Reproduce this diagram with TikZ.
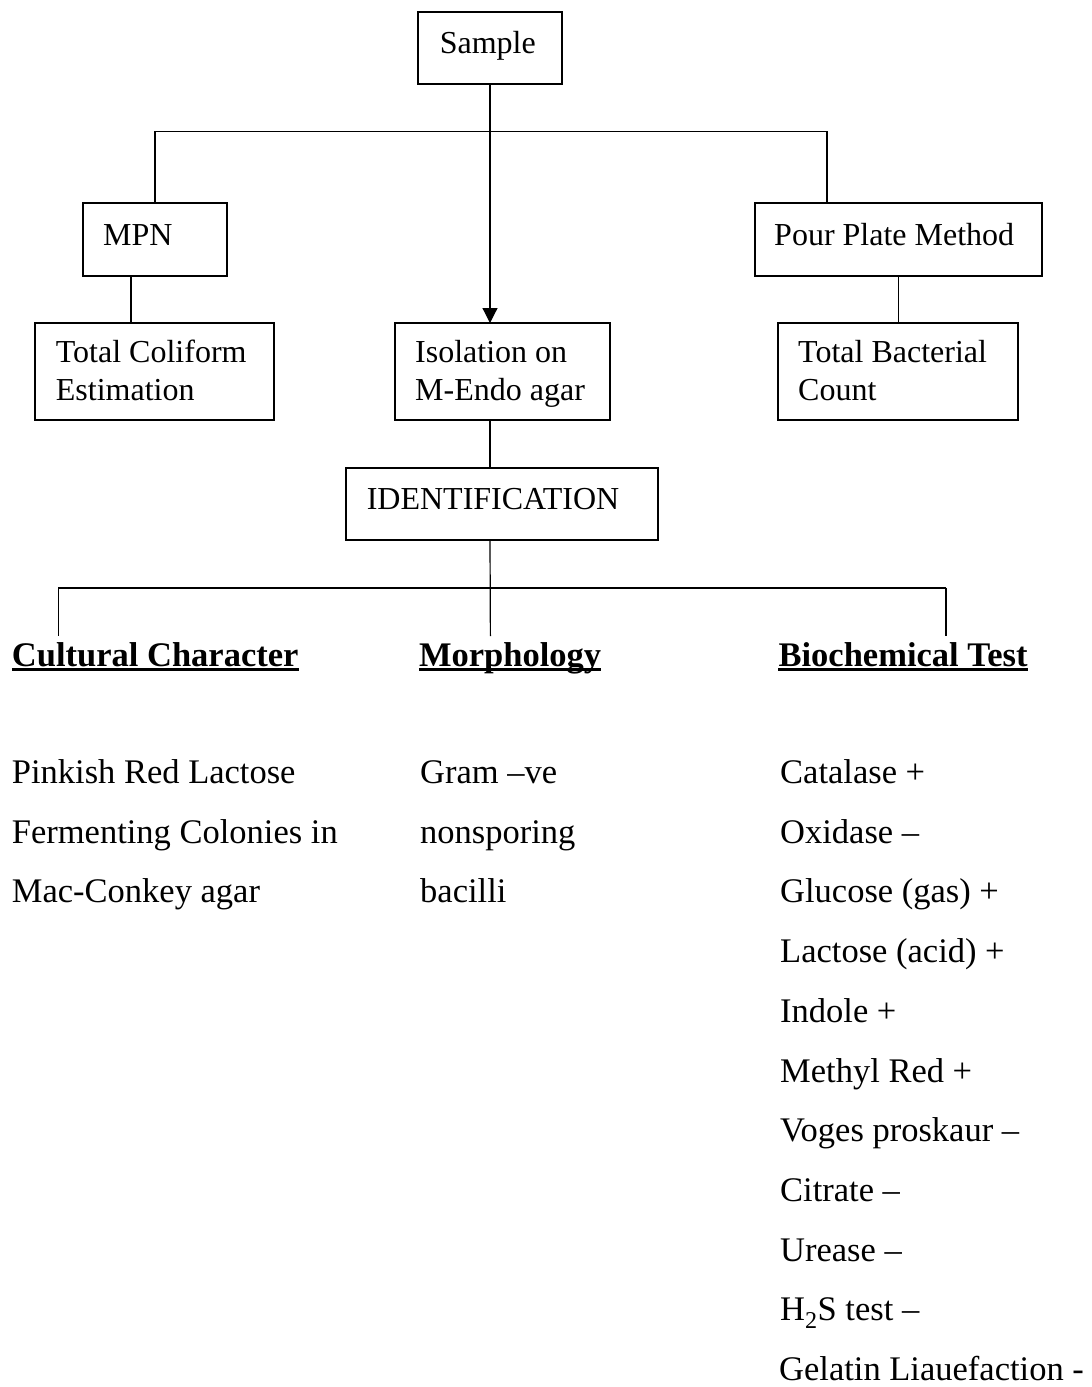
\documentclass[tikz,border=0pt]{standalone}
\usepackage{fontspec}
\setmainfont{Liberation Serif}
\usetikzlibrary{arrows.meta}
\begin{document}
\begin{tikzpicture}[x=1pt,y=-1pt,
  bx/.style={draw, line width=1.8pt, inner sep=0pt, outer sep=0pt},
  bt/.style={anchor=base west, inner sep=0pt, font=\fontsize{32}{37.5}\selectfont},
  bd/.style={anchor=base west, inner sep=0pt, font=\fontsize{34.5}{40}\selectfont},
  hd/.style={anchor=base west, inner sep=0pt, font=\fontsize{34.5}{40}\selectfont\bfseries},
  conn/.style={line width=1.2pt},
  barline/.style={line width=1.9pt},
  uline/.style={line width=2.6pt}]
\useasboundingbox (0,0) rectangle (1092,1387);

% boxes
\node[bx, minimum width=144pt, minimum height=72pt] (sample) at (490,48) {};
\node[bx, minimum width=144pt, minimum height=73pt] (mpn) at (155,239.5) {};
\node[bx, minimum width=287pt, minimum height=73pt] (pour) at (898.5,239.5) {};
\node[bx, minimum width=239pt, minimum height=97pt] (coli) at (154.5,371.5) {};
\node[bx, minimum width=215pt, minimum height=97pt] (iso) at (502.5,371.5) {};
\node[bx, minimum width=240pt, minimum height=97pt] (bact) at (898,371.5) {};
\node[bx, minimum width=312pt, minimum height=72pt] (ident) at (502,504) {};

% box texts
\node[bt] (tsample) at (439.6,53.3) {Sample};
\node[bt] (tmpn) at (103,245) {MPN};
\node[bt] (tpour) at (774,245) {Pour Plate Method};
\node[bt] (tcoli1) at (55.7,362.7) {Total Coliform};
\node[bt] (tcoli2) at (55.7,400) {Estimation};
\node[bt] (tiso1) at (415,362.7) {Isolation on};
\node[bt] (tiso2) at (415,400) {M-Endo agar};
\node[bt] (tbact1) at (798,362.7) {Total Bacterial};
\node[bt] (tbact2) at (798,400) {Count};
\node[bt] (tident) at (366.6,509) {IDENTIFICATION};

% connectors, upper part
\draw[conn, -{Triangle[width=15pt,length=15pt]}] (sample.south) -- (sample.south |- iso.north);
\coordinate (tl) at (155,131.5);
\coordinate (tr) at (827,131.5);
\draw[barline] (mpn.north) -- (tl) -- (tr) -- (tr |- pour.north);
\draw[conn] ([xshift=-24pt]mpn.south) -- ([xshift=-24pt]mpn.south |- coli.north);
\draw[conn] (pour.south) -- (pour.south |- bact.north);
\draw[conn] (sample.south |- iso.south) -- (sample.south |- ident.north);

% connectors, lower part
\coordinate (bL) at (58.4,587.7);
\coordinate (bR) at (946,587.7);
\coordinate (dL) at (58.4,636);
\coordinate (dR) at (946,636);
\coordinate (dM) at (490.4,636);
\draw[conn] (sample.south |- ident.south) -- (dM);
\draw[barline] (bL) -- (bR);
\draw[conn] (bL) -- (dL);
\draw[conn] (bR) -- (dR);

% headings
\node[hd] (hc) at (11.8,666) {Cultural Character};
\node[hd] (hm) at (418.8,666) {Morphology};
\node[hd] (hb) at (778.4,666) {Biochemical Test};
\foreach \h in {hc,hm,hb}
  \draw[uline] ([yshift=-3.5pt]\h.base west) -- ([yshift=-3.5pt]\h.base east);

% cultural character
\node[bd] (c1) at (11.7,783.5) {Pinkish Red Lactose};
\node[bd] (c2) at (11.7,843.2) {Fermenting Colonies in};
\node[bd] (c3) at (11.7,902.9) {Mac-Conkey agar};

% morphology
\node[bd] (m1) at (420,783.5) {Gram –ve};
\node[bd] (m2) at (420,843.2) {nonsporing};
\node[bd] (m3) at (420,902.9) {bacilli};

% biochemical tests
\node[bd] (b1) at (780,783.5) {Catalase +};
\node[bd] (b2) at (780,843.2) {Oxidase –};
\node[bd] (b3) at (780,902.9) {Glucose (gas) +};
\node[bd] (b4) at (780,962.6) {Lactose (acid) +};
\node[bd] (b5) at (780,1022.3) {Indole +};
\node[bd] (b6) at (780,1082.0) {Methyl Red +};
\node[bd] (b7) at (780,1141.7) {Voges proskaur –};
\node[bd] (b8) at (780,1201.4) {Citrate –};
\node[bd] (b9) at (780,1261.1) {Urease –};
\node[bd] (b10) at (780,1320.8) {H\textsubscript{2}S test –};
\node[bd] (b11) at (779,1380.5) {Gelatin Liauefaction -};
\end{tikzpicture}
\end{document}
